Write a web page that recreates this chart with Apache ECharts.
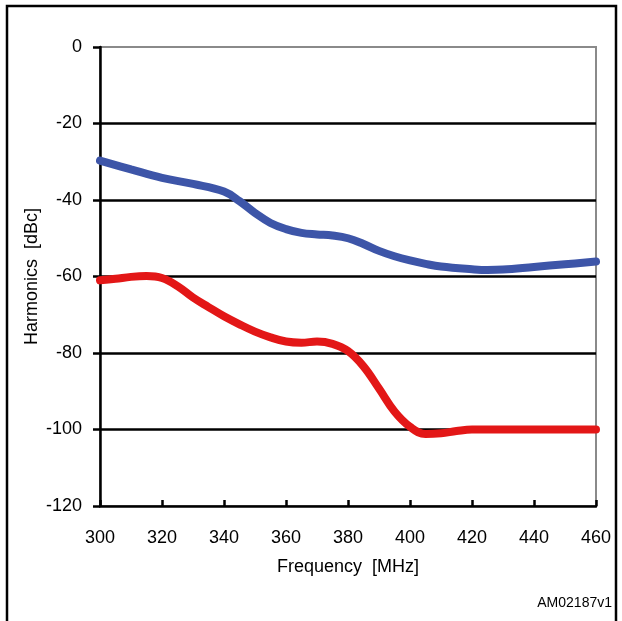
<!DOCTYPE html>
<html><head><meta charset="utf-8">
<script src="https://cdn.jsdelivr.net/npm/echarts@6/dist/echarts.min.js"></script>
<style>html,body{margin:0;padding:0;background:#fff}#c{width:622px;height:621px}</style>
</head><body><div id="c"></div>
<script>
const freqBlue = [300,310,320,330,340,345,350,355,360,365,370,375,380,385,390,395,400,405,410,420,425,430,440,450,460];
const blueValues = [-29.7,-32,-34.2,-35.8,-37.8,-40.3,-43.4,-46,-47.6,-48.6,-49,-49.3,-50,-51.5,-53.3,-54.7,-55.8,-56.7,-57.4,-58.1,-58.3,-58.2,-57.5,-56.8,-56.1];
const freqRed = [300,305,310,315,320,325,330,335,340,345,350,355,360,365,370,375,380,385,390,395,400,405,410,415,420,430,440,450,460];
const redValues = [-61,-60.6,-60.1,-59.9,-60.4,-62.5,-65.5,-68,-70.4,-72.5,-74.4,-75.9,-77,-77.3,-77,-77.6,-79.5,-83.5,-89.3,-95.3,-99.3,-101.2,-101,-100.4,-100,-100,-100,-100,-100];
const xTicks = [300,320,340,360,380,400,420,440,460];
const yTicks = [0,-20,-40,-60,-80,-100,-120];
const xName = 'Frequency  [MHz]';
const yName = 'Harmonics  [dBc]';
const noteText = 'AM02187v1';

const font = 'Liberation Sans, Arial, Helvetica, sans-serif';
const chart = echarts.init(document.getElementById('c'), null, {renderer:'canvas'});
chart.setOption({
  animation:false,
  backgroundColor:'#fff',
  grid:{left:100,right:26,top:47,bottom:115,show:true,borderColor:'#8a8a8a',borderWidth:2,backgroundColor:'transparent'},
  xAxis:{type:'value',min:xTicks[0],max:xTicks[xTicks.length-1],interval:20,
    name:xName,nameLocation:'middle',nameGap:52,nameMoveOverlap:false,
    nameTextStyle:{fontFamily:font,fontSize:18,color:'#000'},
    axisLine:{onZero:false,lineStyle:{color:'#000',width:2.5}},
    axisTick:{inside:true,length:6,lineStyle:{color:'#000',width:2.5}},
    axisLabel:{margin:23,fontFamily:font,fontSize:18,color:'#000'},
    splitLine:{show:false}},
  yAxis:{type:'value',min:yTicks[yTicks.length-1],max:yTicks[0],interval:20,
    name:yName,nameLocation:'middle',nameGap:59,nameRotate:90,nameMoveOverlap:false,
    nameTextStyle:{fontFamily:font,fontSize:18,color:'#000'},
    axisLine:{onZero:false,lineStyle:{color:'#000',width:2.5}},
    axisTick:{inside:false,length:7,lineStyle:{color:'#000',width:2.5}},
    axisLabel:{margin:18,fontFamily:font,fontSize:18,color:'#000'},
    splitLine:{show:true,showMinLine:false,showMaxLine:false,lineStyle:{color:'#000',width:2.5}}},
  series:[
    {type:'line',data:freqBlue.map((f,i)=>[f,blueValues[i]]),smooth:0.4,showSymbol:false,
     lineStyle:{color:'#3d55a8',width:8,cap:'round'},z:3},
    {type:'line',data:freqRed.map((f,i)=>[f,redValues[i]]),smooth:0.4,showSymbol:false,
     lineStyle:{color:'#e31717',width:8,cap:'round'},z:4}
  ],
  graphic:[
    {type:'polyline',shape:{points:[[7,630],[7,6],[616,6],[616,630]]},style:{stroke:'#000',lineWidth:2.5,fill:null},silent:true},
    {type:'text',right:10,top:596,style:{text:noteText,font:'14px '+font,fill:'#000'}}
  ]
});
</script></body></html>
